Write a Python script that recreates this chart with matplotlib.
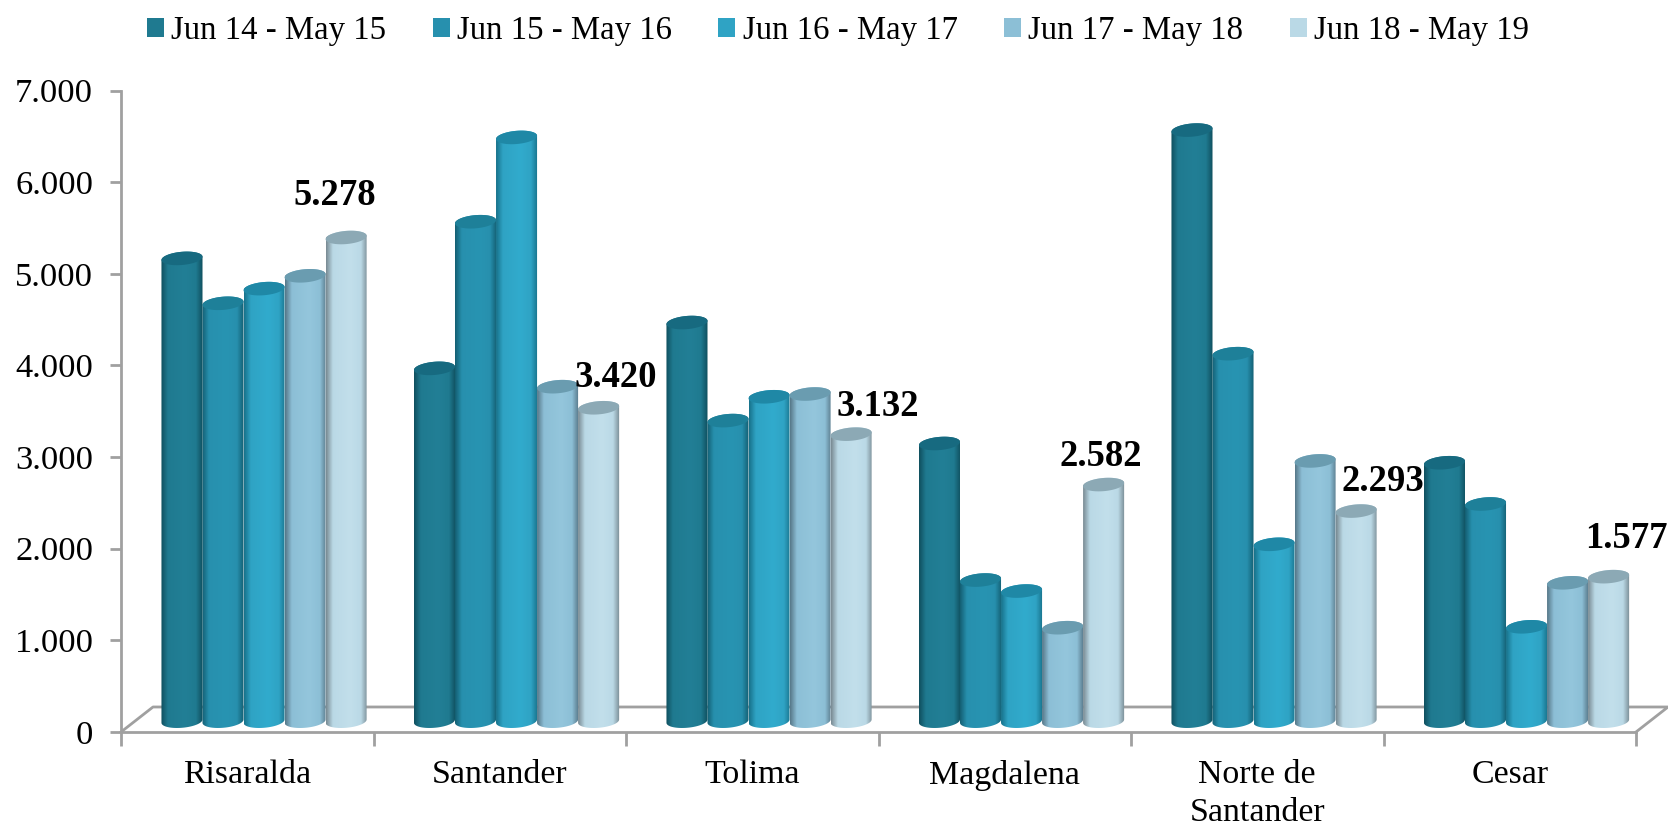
"""
Grouped cylinder bars per department, Jun 14 - May 19.
"""
import numpy as np
import matplotlib.pyplot as plt
from matplotlib.colors import LinearSegmentedColormap
from matplotlib.patches import Patch, PathPatch
from matplotlib.path import Path
from matplotlib.ticker import FuncFormatter

plt.rcParams["font.family"] = ["Liberation Serif", "DejaVu Serif"]

# ── Data ──────────────────────────────────────────────────────────────────────

departments = ["Risaralda", "Santander", "Tolima", "Magdalena", "Norte de\nSantander", "Cesar"]
periods = ["Jun 14 - May 15", "Jun 15 - May 16", "Jun 16 - May 17", "Jun 17 - May 18", "Jun 18 - May 19"]

jun14 = [5050, 3850, 4350, 3030, 6450, 2820]
jun15 = [4560, 5450, 3280, 1540, 4010, 2370]
jun16 = [4720, 6370, 3540, 1420, 1930, 1030]
jun17 = [4860, 3650, 3570, 1020, 2840, 1510]
jun18 = [5278, 3420, 3132, 2582, 2293, 1577]
series = [jun14, jun15, jun16, jun17, jun18]

# ── Style ─────────────────────────────────────────────────────────────────────

legend_colors = ["#1F7A90", "#2790AE", "#2FA3C4", "#8CBFD6", "#BAD9E6"]
edge_colors = ["#10505F", "#146074", "#18738C", "#58798A", "#7A8C95"]
mid_colors = ["#227F96", "#2894B2", "#31ABCD", "#94C6DC", "#C2DFEB"]
top_colors = ["#176A80", "#1E8099", "#1F88A6", "#6A9CB0", "#8CA9B5"]

# label offsets from the top of the last bar, in points
label_dx = [-8.4, 12.3, 19.2, -2.3, 19.2, 13]
label_dy = [30, 22, 20, 20.5, 21.5, 27.5]

GREY = "#A0A0A0"
BAR_W = 0.1625
DEPTH_X = 32 / 252.5          # floor depth, category units
DEPTH_Y = 25 / 91.6 * 1000    # floor depth, value units
BASE_X = 0.0665               # bars stand half way back on the floor
BASE_Y = 118
ELL_H = 72                    # half height of the end ellipses
ELL_TILT = 18                 # right side of an ellipse sits a bit higher

W, H = 1668, 827
fig = plt.figure(figsize=(W / 100, H / 100), dpi=100)
ax = fig.add_axes([121 / W, 1 - 732 / H, (1636 - 121) / W, (732 - 90.5) / H])
ax.set_xlim(0, 6)
ax.set_ylim(0, 7000)

# ── Floor ─────────────────────────────────────────────────────────────────────

ax.plot([0, DEPTH_X, 6 + DEPTH_X, 6], [0, DEPTH_Y, DEPTH_Y, 0], color=GREY, lw=2,
        clip_on=False, zorder=1)

# ── Cylinders ─────────────────────────────────────────────────────────────────

t = np.linspace(0, np.pi, 40)
grad_pos = [0, 0.16, 0.58, 0.84, 1]

for i, vals in enumerate(series):
    cmap = LinearSegmentedColormap.from_list(
        f"cyl{i}", list(zip(grad_pos, [edge_colors[i], legend_colors[i], mid_colors[i],
                                       legend_colors[i], edge_colors[i]])))
    for j, v in enumerate(vals):
        cx = j + 0.5 + BASE_X + (i - 2) * BAR_W
        left, right = cx - BAR_W / 2, cx + BAR_W / 2
        top = v + BASE_Y
        ex = np.cos(t) * BAR_W / 2

        # side of the cylinder: bottom curve bulges down, top edge is the ellipse far side
        bottom_y = BASE_Y - ELL_H * np.sin(t) + ELL_TILT * np.cos(t)
        top_y = top + ELL_H * np.sin(t) + ELL_TILT * np.cos(t)
        verts = np.vstack([np.column_stack([cx + ex[::-1], bottom_y[::-1]]),
                           np.column_stack([cx + ex[::-1], top_y[::-1]])[::-1]])
        verts = np.vstack([verts, verts[0]])
        codes = [Path.MOVETO] + [Path.LINETO] * (len(verts) - 2) + [Path.CLOSEPOLY]
        body = PathPatch(Path(verts, codes), fc="none", ec="none", transform=ax.transData)
        ax.add_patch(body)
        im = ax.imshow(np.linspace(0, 1, 64)[None, :], cmap=cmap, aspect="auto",
                       extent=[left, right, 0, top + ELL_H + ELL_TILT], zorder=2 + 0.01 * i)
        im.set_clip_path(body)

        # top cap
        full = np.linspace(0, 2 * np.pi, 80)
        ax.fill(cx + np.cos(full) * BAR_W / 2,
                top + ELL_H * np.sin(full) + ELL_TILT * np.cos(full),
                color=top_colors[i], lw=0, zorder=2.005 + 0.01 * i, clip_on=False)

ax.set_xlim(0, 6)
ax.set_ylim(0, 7000)

# ── Value labels on the last period ───────────────────────────────────────────

for j, v in enumerate(jun18):
    cx = j + 0.5 + BASE_X + 2 * BAR_W
    ax.annotate(f"{v:,}".replace(",", "."), (cx, v + BASE_Y), xytext=(label_dx[j], label_dy[j]),
                textcoords="offset points", ha="center", va="center", fontsize=26.4,
                fontweight="bold", color="black", annotation_clip=False, zorder=5)

# ── Axes ──────────────────────────────────────────────────────────────────────

for side in ["top", "right"]:
    ax.spines[side].set_visible(False)
for side in ["left", "bottom"]:
    ax.spines[side].set_color(GREY)
    ax.spines[side].set_linewidth(2)
    ax.spines[side].set_zorder(1)

ax.set_yticks(np.arange(0, 7001, 1000))
ax.yaxis.set_major_formatter(FuncFormatter(lambda y, _: f"{int(y):,}".replace(",", ".")))
ax.tick_params(axis="y", length=8, width=2, color=GREY, labelsize=24.8, pad=12)

ax.set_xticks(np.arange(0, 7))
ax.set_xticklabels([])
ax.set_xticks(np.arange(6) + 0.5, departments, minor=True, linespacing=1.3)
ax.tick_params(axis="x", which="major", length=10, width=2, color=GREY)
ax.tick_params(axis="x", which="minor", length=0, labelsize=24.4, pad=20)
for lab in ax.get_xticklabels(minor=True):
    lab.set_verticalalignment("top")

# ── Legend ────────────────────────────────────────────────────────────────────

handles = [Patch(facecolor=c, edgecolor="none", label=p) for c, p in zip(legend_colors, periods)]
fig.legend(handles=handles, loc="upper left", bbox_to_anchor=(137 / W, 1 - 6 / H), ncol=5,
           frameon=False, fontsize=23.6, handlelength=0.52, handleheight=0.52, handletextpad=0.22,
           columnspacing=1.42, borderaxespad=0, borderpad=0.3)

fig.savefig("out.png", dpi=100)
